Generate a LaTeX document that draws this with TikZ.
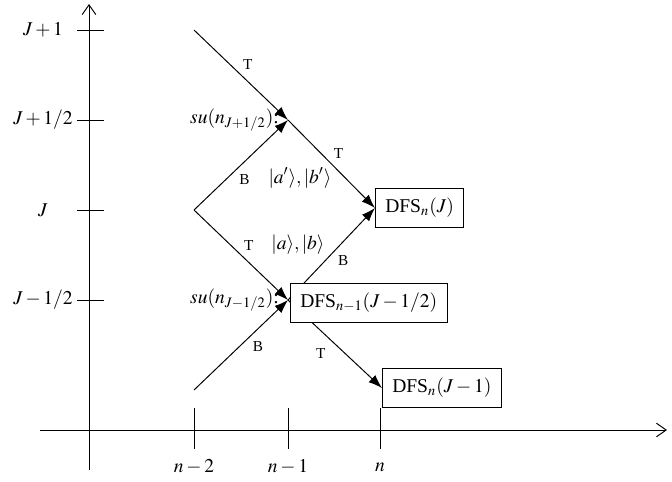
\documentclass[tikz,border=0pt]{standalone}
\usepackage{mathptmx}
\usepackage{fontspec}
\setmainfont{Liberation Serif}
\usetikzlibrary{arrows.meta, positioning}
\tikzset{
    flow/.style={-{Latex[length=7pt,width=5pt]}, line width=0.5pt}, % transitions between levels
    axis/.style={-{Straight Barb[length=5pt,width=7pt]}, line width=0.5pt},
    tick/.style={line width=0.5pt},
    lab/.style={font=\fontsize{7.8}{9}\selectfont, inner sep=1.8pt}, % the T / B marks on the edges
    dfs/.style={draw, fill=white, line width=0.5pt, inner xsep=5pt, inner ysep=5pt, anchor=west}
}

\begin{document}
\begin{tikzpicture}[x=0.018cm, y=-0.018cm]
    \useasboundingbox (0,0) rectangle (672,481);

    % axes with the J levels and the n steps
    \draw[axis] (89,470) -- (89,4);
    \draw[axis] (40,430) -- (667,430);
    \foreach \y/\t in {30/{J+1}, 120/{J+1/2}, 210/J, 300/{J-1/2}}{
        \draw[tick] (77,\y) -- (104,\y);
        \node (lev-\y) at (43,\y) {$\t$};
    }
    \foreach \x/\t in {194/{n-2}, 288/{n-1}, 380/n}{
        \draw[tick] (\x,408) -- (\x,449);
        \node (step-\x) at (\x,467) {$\t$};
    }

    \coordinate (top) at (194,30);
    \coordinate (fork) at (194,210);
    \coordinate (low) at (194,390);
    \coordinate (su1) at (288,120);
    \coordinate (su2) at (288,300);

    \node[dfs] (dfsJ) at (375,208) {DFS$_n(J)$};
    \node[dfs] (dfsL) at (382,388) {DFS$_n(J-1)$};

    \draw[flow] (top) -- node[lab, pos=.48, above right] {T} (su1);
    \draw[flow] (fork) -- node[lab, pos=.44, below right] {B} (su1);
    \draw[flow] (su1) -- node[lab, pos=.48, above right] {T} (dfsJ.west);
    \draw[flow] (fork) -- node[lab, pos=.49, above right] {T} (su2);
    \draw[flow] (low) -- node[lab, pos=.585, below right] {B} (su2);
    \draw[flow] (su2) -- node[lab, pos=.53, below right] {B} (dfsJ.west);
    \draw[flow] (su2) -- node[lab, pos=.47, below left=2pt] {T} (dfsL.west);

    % drawn last so that it covers the start of the two lines above
    \node[dfs] (dfsH) at (290,303) {DFS$_{n-1}(J-1/2)$};

    \node[anchor=east, inner sep=1pt, xshift=-3.5pt] (su1-lbl) at (su1) {$su(n_{J+1/2})$:};
    \node[anchor=east, inner sep=1pt, xshift=-3.5pt] (su2-lbl) at (su2) {$su(n_{J-1/2})$:};
    \node (ketp) at (300,178) {$|a'\rangle,|b'\rangle$};
    \node (ket) at (298,245) {$|a\rangle,|b\rangle$};
\end{tikzpicture}
\end{document}
